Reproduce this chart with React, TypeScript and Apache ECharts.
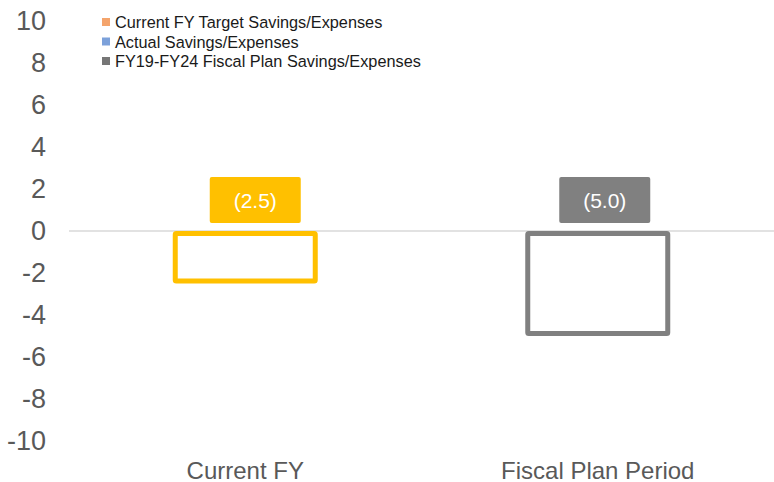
import React, { useEffect, useRef } from "react";
import * as echarts from "echarts";

const categories = ["Current FY", "Fiscal Plan Period"];
const seriesNames = [
  "Current FY Target Savings/Expenses",
  "Actual Savings/Expenses",
  "FY19-FY24 Fiscal Plan Savings/Expenses",
];
const targetValues: (number | null)[] = [-2.5, null];
const actualValues: (number | null)[] = [null, null];
const planValues: (number | null)[] = [null, -5.0];
const legendColors = ["#F4A46C", "#7CA1DA", "#767676"];
const barColors = ["#FFC000", "#5B9BD5", "#808080"];
const yTicks = { min: -10, max: 10, interval: 2 };

const FONT = "Liberation Sans, Arial, sans-serif";

export default function App() {
  const ref = useRef<HTMLDivElement>(null);
  useEffect(() => {
    if (!ref.current) return;
    const chart = echarts.init(ref.current, null, { renderer: "svg" });
    const mkSeries = (
      name: string,
      data: (number | null)[],
      color: string,
      withLine: boolean,
      labelShift: number
    ) => ({
      name,
      type: "bar",
      stack: "all",
      barWidth: 145,
      data,
      itemStyle: { color: "#ffffff", borderColor: color, borderWidth: 5, borderRadius: 1 },
      label: {
        show: true,
        position: "top",
        distance: 8,
        offset: [labelShift, 0],
        formatter: (p: any) => `(${Math.abs(p.value).toFixed(1)})`,
        color: "#ffffff",
        fontFamily: FONT,
        fontSize: 21,
        backgroundColor: color,
        borderRadius: 2,
        width: 91,
        lineHeight: 20,
        height: 20,
        align: "center",
        padding: [13, 0],
      },
      markLine: withLine
        ? {
            silent: true,
            symbol: "none",
            label: { show: false },
            lineStyle: { color: "#D9D9D9", width: 1.5, type: "solid" },
            data: [{ yAxis: 0 }],
            z: 1,
          }
        : undefined,
      z: 3,
    });
    chart.setOption({
      animation: false,
      grid: { left: 69, right: -3, top: 21, bottom: 41, containLabel: false },
      legend: {
        orient: "vertical",
        left: 97,
        top: 9,
        itemWidth: 8,
        itemHeight: 8,
        itemGap: 3.5,
        icon: "rect",
        textStyle: { fontFamily: FONT, fontSize: 16.3, color: "#1a1a1a", lineHeight: 16 },
        data: seriesNames.map((n, i) => ({
          name: n,
          itemStyle: { color: legendColors[i], borderWidth: 0 },
        })),
        selectedMode: false,
      },
      xAxis: {
        type: "category",
        data: categories,
        axisLine: { show: false, onZero: false },
        axisTick: { show: false },
        axisLabel: { fontFamily: FONT, fontSize: 24, color: "#595959", margin: 17 },
      },
      yAxis: {
        type: "value",
        min: yTicks.min,
        max: yTicks.max,
        interval: yTicks.interval,
        splitLine: { show: false },
        axisLine: { show: false },
        axisTick: { show: false },
        axisLabel: { fontFamily: FONT, fontSize: 27, color: "#595959", margin: 23 },
      },
      series: [
        mkSeries(seriesNames[0], targetValues, barColors[0], true, 10),
        mkSeries(seriesNames[1], actualValues, barColors[1], false, 0),
        mkSeries(seriesNames[2], planValues, barColors[2], false, 7),
      ],
    });
    return () => chart.dispose();
  }, []);
  return (
    <div
      ref={ref}
      style={{ position: "fixed", left: 0, top: 0, width: 774, height: 482, background: "#fff" }}
    />
  );
}
